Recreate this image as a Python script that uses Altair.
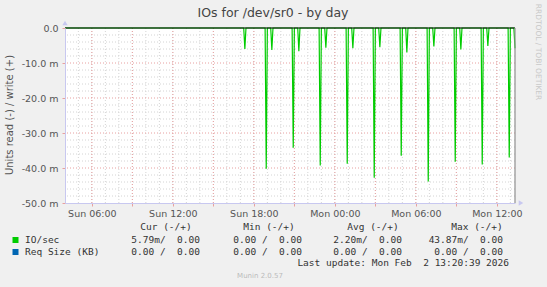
import altair as alt
import pandas as pd

# ---------------- data ----------------
T_START = 4.011    # Sun 04:00:39  (hours counted from Sun 00:00)
T_END = 37.344     # Mon 13:20:39
SAMPLE = 1 / 12    # 5-minute sampling step

# read spikes (negative = read), hours and values in milli-units
spike_hours = [17.333, 18.917, 19.333, 20.917, 21.333, 22.917, 23.333, 24.917,
               25.333, 26.917, 27.333, 28.917, 29.333, 30.917, 31.333, 32.917,
               33.333, 34.917, 35.333, 36.917, 37.344]
spike_values = [-6.0, -40.2, -6.3, -34.2, -6.6, -39.3, -5.6, -38.8,
                -5.8, -42.8, -5.5, -36.5, -7.0, -43.87, -5.3, -38.2,
                -6.1, -39.0, -5.1, -37.0, -5.79]

x_tick_hours = [6, 9, 12, 15, 18, 21, 24, 27, 30, 33, 36]
x_label_hours = [6, 12, 18, 24, 30, 36]
x_labels = ["Sun 06:00", "Sun 12:00", "Sun 18:00", "Mon 00:00", "Mon 06:00", "Mon 12:00"]
minor_hours = [5, 6, 7, 8, 9, 10, 11, 12, 13, 14, 15, 16, 17, 18, 19, 20, 21,
               22, 23, 24, 25, 26, 27, 28, 29, 30, 31, 32, 33, 34, 35, 36, 37]

y_tick_values = [0, -10, -20, -30, -40, -50]
y_labels = ["0.0", "-10.0 m", "-20.0 m", "-30.0 m", "-40.0 m", "-50.0 m"]
y_minor = [-2, -4, -6, -8, -12, -14, -16, -18, -22, -24, -26, -28,
           -32, -34, -36, -38, -42, -44, -46, -48]
y_major = [-10, -20, -30, -40]

title_text = "IOs for /dev/sr0 - by day"
y_title = "Units read (-) / write (+)"
side_text = "RRDTOOL / TOBI OETIKER"
legend_names = ["IO/sec", "Req Size (KB)"]
legend_colors = ["#00CC00", "#0066B3"]
headers = ["Cur (-/+)", "Min (-/+)", "Avg (-/+)", "Max (-/+)"]
cur_vals = ["5.79m/  0.00", "0.00 /  0.00"]
min_vals = ["0.00 /  0.00", "0.00 /  0.00"]
avg_vals = ["2.20m/  0.00", "0.00 /  0.00"]
max_vals = ["43.87m/  0.00", "0.00 /  0.00"]
last_update = "Last update: Mon Feb  2 13:20:39 2026"
footer = "Munin 2.0.57"

# ---------------- series table ----------------
rows = [(T_START, 0.0)]
for t, v in zip(spike_hours, spike_values):
    rows.append((t - SAMPLE, 0.0))
    rows.append((t, v))
    if t + SAMPLE < T_END:
        rows.append((t + SAMPLE, 0.0))
series = pd.DataFrame(rows, columns=["h", "v"]).sort_values("h")

def nb(s):
    return s.replace(" ", "\u00a0")

def label_expr(values, labels):
    expr = "''"
    for val, lab in reversed(list(zip(values, labels))):
        expr = f"datum.value == {val} ? '{lab}' : " + expr
    return expr

AXIS_COL = "#C8C8F0"
FONT = "DejaVu Sans"
MONO = "DejaVu Sans Mono"

x_axis = alt.Axis(values=x_tick_hours, labelExpr=label_expr(x_label_hours, x_labels),
                  title=None, grid=False, tickColor="#E8A0A0", tickSize=3,
                  domainColor=AXIS_COL, labelFont=FONT, labelFontSize=9.5,
                  labelColor="#555555", labelPadding=2, labelOverlap=False,
                  labelFlush=False, zindex=1)
y_axis = alt.Axis(values=y_tick_values, labelExpr=label_expr(y_tick_values, y_labels),
                  title=None, grid=False, tickColor="#E8A0A0", tickSize=3,
                  domainColor=AXIS_COL, labelFont=FONT, labelFontSize=9.5,
                  labelColor="#555555", labelPadding=4, labelOverlap=False,
                  labelFlush=False, zindex=1)
x_scale = alt.Scale(domain=[T_START, T_END], nice=False, zero=False)
y_scale = alt.Scale(domain=[-50, 0], nice=False, zero=False)

def X(f):
    return alt.X(f"{f}:Q", scale=x_scale, axis=x_axis)

def Y(f):
    return alt.Y(f"{f}:Q", scale=y_scale, axis=y_axis)

one = pd.DataFrame({"a": [0]})

layers = []
# grid
layers.append(alt.Chart(pd.DataFrame({"h": minor_hours})).mark_rule(
    color="#D4D4D4", strokeDash=[1, 2], strokeWidth=1).encode(x=X("h")))
layers.append(alt.Chart(pd.DataFrame({"v": y_minor})).mark_rule(
    color="#D4D4D4", strokeDash=[1, 2], strokeWidth=1).encode(y=Y("v")))
layers.append(alt.Chart(pd.DataFrame({"h": x_tick_hours})).mark_rule(
    color="#E8A0A0", strokeDash=[1, 2], strokeWidth=1).encode(x=X("h")))
layers.append(alt.Chart(pd.DataFrame({"v": y_major})).mark_rule(
    color="#E8A0A0", strokeDash=[1, 2], strokeWidth=1).encode(y=Y("v")))
# data
layers.append(alt.Chart(series).mark_line(color="#00CC00", strokeWidth=1.2).encode(
    x=X("h"), y=Y("v"), order="h:Q"))
# zero line
layers.append(alt.Chart(pd.DataFrame({"v": [0]})).mark_rule(
    color="#000000", strokeWidth=1.2).encode(y=Y("v")))
# right edge line
layers.append(alt.Chart(pd.DataFrame({"h": [T_END]})).mark_rule(
    color="#909090", strokeWidth=1.2).encode(x=X("h")))
# axis arrows
layers.append(alt.Chart(one).mark_point(shape="triangle-up", filled=True, size=28,
    color=AXIS_COL, opacity=1).encode(x=alt.value(0), y=alt.value(-5)))
layers.append(alt.Chart(one).mark_point(shape="triangle-right", filled=True, size=28,
    color=AXIS_COL, opacity=1).encode(x=alt.value(456), y=alt.value(175)))

def text(s, x, y, **kw):
    return alt.Chart(one).mark_text(**kw).encode(
        x=alt.value(x), y=alt.value(y), text=alt.value(s))

# titles
layers.append(text(title_text, 208, -15, font=FONT, fontSize=12.5, color="#444444",
                   align="center", baseline="middle"))
layers.append(text(y_title, -55, 87, font=FONT, fontSize=10, color="#555555",
                   align="center", baseline="middle", angle=270))
layers.append(text(side_text, 473, 24, font=FONT, fontSize=7.5, color="#C8C8C8",
                   align="center", baseline="middle", angle=90))

# legend
header_x = [101, 204, 308, 412]
for hx, h in zip(header_x, headers):
    layers.append(text(nb(h), hx, 199, font=MONO, fontSize=9.5, color="#333333",
                       align="center", baseline="middle"))
row_y = [212, 224]
col_right = [135, 237, 337, 438]
for i in range(2):
    layers.append(alt.Chart(one).mark_point(shape="square", filled=True, size=36,
        color=legend_colors[i], opacity=1).encode(x=alt.value(-49.5), y=alt.value(row_y[i])))
    layers.append(text(nb(legend_names[i]), -40, row_y[i], font=MONO, fontSize=9.5,
                       color="#333333", align="left", baseline="middle"))
    for cx, vals in zip(col_right, [cur_vals, min_vals, avg_vals, max_vals]):
        layers.append(text(nb(vals[i]), cx, row_y[i], font=MONO, fontSize=9.5,
                           color="#333333", align="right", baseline="middle"))
layers.append(text(nb(last_update), 444, 235, font=MONO, fontSize=9.5, color="#333333",
                   align="right", baseline="middle"))
layers.append(text(footer, 195, 248, font=FONT, fontSize=7, color="#BBBBBB",
                   align="center", baseline="middle"))

chart = alt.layer(*layers).properties(
    width=450, height=175,
    autosize=alt.AutoSizeParams(type="none"),
    padding={"left": 65, "top": 28, "right": 32, "bottom": 84},
    background="#F0F0F0",
).configure_view(fill="#FFFFFF", strokeWidth=0)

chart.save("out.html", embed_options={"renderer": "svg", "actions": False})
